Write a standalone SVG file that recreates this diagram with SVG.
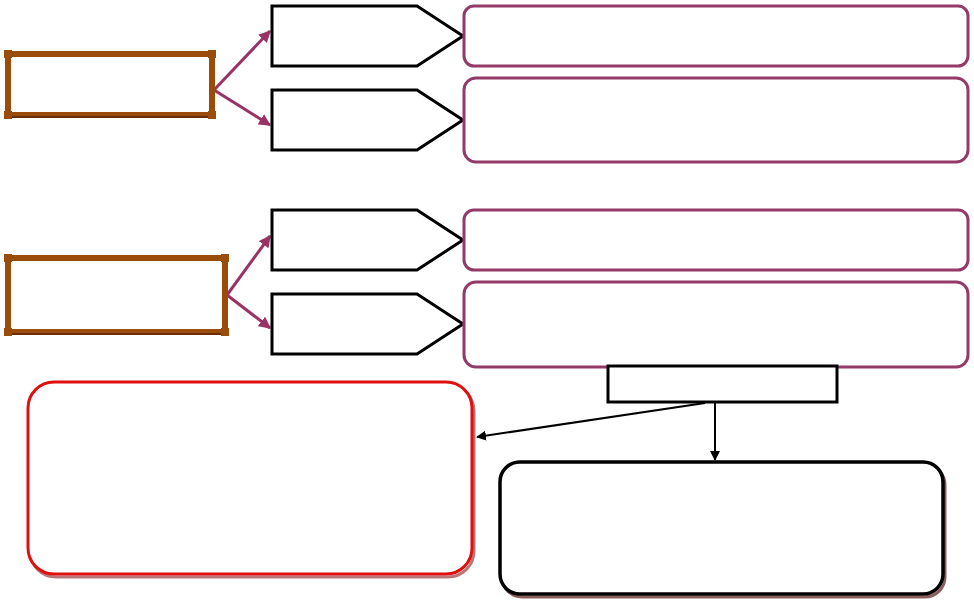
<svg xmlns="http://www.w3.org/2000/svg" width="974" height="604" viewBox="0 0 974 604">
<defs>
<style>
.brown{fill:#fff;stroke:#9A4D0B;stroke-width:6}
.nub{fill:#9A4D0B}
.pent{fill:#fff;stroke:#000;stroke-width:3}
.purple{fill:#fff;stroke:#933A68;stroke-width:3}
.pc{stroke:#993366;stroke-width:3;fill:none;marker-end:url(#ap)}
.bc{stroke:#000;stroke-width:2;fill:none;marker-end:url(#ab)}
</style>
<marker id="ap" viewBox="0 0 10 10" refX="9" refY="5" markerWidth="4" markerHeight="4" orient="auto" markerUnits="strokeWidth"><path d="M0,0L10,5L0,10z" fill="#993366"/></marker>
<marker id="ab" viewBox="0 0 10 10" refX="9" refY="5" markerWidth="5" markerHeight="5" orient="auto" markerUnits="strokeWidth"><path d="M0,0L10,5L0,10z" fill="#000"/></marker>
</defs>
<rect width="974" height="604" fill="#fff"/>
<g id="connectors">
<line class="pc" x1="214" y1="90" x2="270" y2="31"/>
<line class="pc" x1="214" y1="90" x2="270" y2="125"/>
<line class="pc" x1="227" y1="295" x2="270" y2="236"/>
<line class="pc" x1="227" y1="295" x2="270" y2="328"/>
<line class="bc" x1="715" y1="402" x2="715" y2="460"/>
<line class="bc" x1="705" y1="403" x2="477" y2="437"/>
</g>
<g id="brown1">
<rect class="brown" x="8" y="54" width="204" height="61"/>
<line x1="8" y1="117" x2="212" y2="117" stroke="#6B2E08" stroke-width="2"/>
<rect class="nub" x="4" y="50" width="8" height="8"/><rect class="nub" x="208" y="50" width="8" height="8"/>
<rect class="nub" x="4" y="111" width="8" height="8"/><rect class="nub" x="208" y="111" width="8" height="8"/>
</g>
<g id="brown2">
<rect class="brown" x="8" y="258" width="217" height="74"/>
<line x1="8" y1="334" x2="225" y2="334" stroke="#6B2E08" stroke-width="2"/>
<rect class="nub" x="4" y="254" width="8" height="8"/><rect class="nub" x="221" y="254" width="8" height="8"/>
<rect class="nub" x="4" y="328" width="8" height="8"/><rect class="nub" x="221" y="328" width="8" height="8"/>
</g>
<g id="pent1"><polygon class="pent" points="272,6 417,6 463,36 417,66 272,66"/></g>
<g id="pent2"><polygon class="pent" points="272,90 417,90 463,120 417,150 272,150"/></g>
<g id="pent3"><polygon class="pent" points="272,210 417,210 463,240 417,270 272,270"/></g>
<g id="pent4"><polygon class="pent" points="272,294 417,294 463,324 417,354 272,354"/></g>
<g id="desc1"><rect class="purple" x="464" y="6" width="504" height="60" rx="10"/></g>
<g id="desc2"><rect class="purple" x="464" y="78" width="504" height="84" rx="12"/></g>
<g id="desc3"><rect class="purple" x="464" y="210" width="504" height="60" rx="10"/></g>
<g id="desc4"><rect class="purple" x="464" y="282" width="504" height="85" rx="12"/></g>
<g id="small">
<rect x="608" y="366" width="229" height="36" fill="#fff" stroke="#000" stroke-width="3"/>
</g>
<g id="redbox">
<rect x="30" y="385" width="444" height="192" rx="26" fill="none" stroke="#8a1a1a" stroke-width="3" opacity="0.6"/>
<rect x="28" y="382" width="444" height="192" rx="26" fill="#fff" stroke="#E01010" stroke-width="3"/>
</g>
<g id="blackbox">
<rect x="502" y="465" width="443" height="132" rx="20" fill="none" stroke="#5a1a1a" stroke-width="3" opacity="0.7"/>
<rect x="500" y="462" width="443" height="132" rx="20" fill="#fff" stroke="#000" stroke-width="3.5"/>
</g>
</svg>
